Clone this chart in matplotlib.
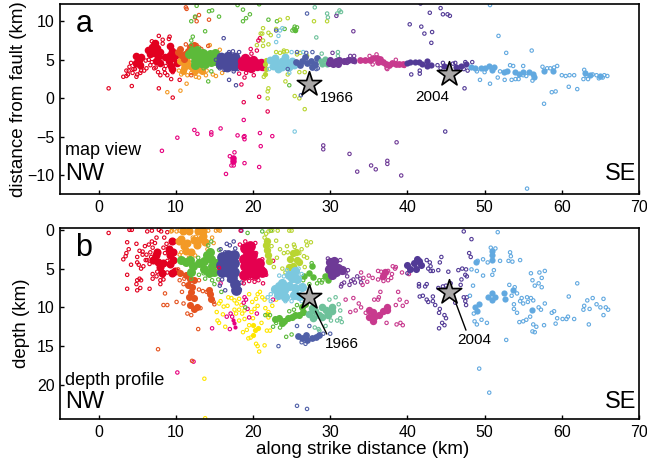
import matplotlib
matplotlib.use('Agg')
import numpy as np
import matplotlib.pyplot as plt

plt.rcParams['font.family'] = ['Liberation Sans', 'DejaVu Sans']

# colours of the clusters
cRed = '#e2001f'; cOrange = '#f39a26'; cVerm = '#e5531f'; cGreen = '#5cba3a'
cIndigo = '#4a4a9a'; cRose = '#e4004f'; cPink = '#e6007e'; cLime = '#b9d531'
cSky = '#7cc8df'; cBlue = '#5060a8'; cTeal = '#6dc19a'; cPurple = '#6e3a96'
cMag = '#c83a8e'; cViolet = '#523a96'; cAzure = '#62a9e0'; cYellow = '#ffe600'

# map view: (colour, dense core points, scattered points)
mapRed = (cRed,
    [(4.9,5.5),(5.2,5),(4.8,4.6),(5.3,4.3),(5.5,5.4),(6.4,6.3),(6.9,6.7),(7.3,7.2),(7.5,6.5),(7.9,6.0),(7.2,5.9),(7.7,5.4),(7.4,4.9),(8,4.6),(6.7,5.7),(9.2,6.8),(9.5,6.2),(9.2,5.6),(9.7,5.2),(9.1,4.8),(9.4,4.2),(8.6,5.4),(10,5.6),(10.1,4.6),(9.5,3.8)],
    [(1.3,1.3),(3.2,2.8),(3.6,2.9),(3.6,3.6),(3.9,3.6),(4,4.1),(4.2,4.6),(4.3,1.6),(4.5,3.8),(4.7,3.8),(4.9,2.8),(5.0,3.1),(5.4,3.3),(5.9,3.6),(5.5,3.6),(6.1,4.9),(6.7,4.3),(7.2,3.9),(7.4,4),(7.8,1.3),(7.8,8.1),(9.2,8),(9.4,2.5),(9.6,3.4),(8.6,3.3),(10.5,2.4),(9.6,0.1),(8.3,7.6),(6.9,7.4),(7.1,7.1),(4.8,4.3),(5.6,4.1),(6.5,5),(8.5,3.8),(9.1,7.7),(7.7,3.4),(8,3),(8.9,3),(3.8,3.1),(4.4,3.3),(6.2,3.9),(6.9,4.7),(8.3,7.1),(8.7,4.2)])
mapOrange = (cOrange,
    [(10.5,4.8),(11,4.5),(11.4,4.8),(11.8,4.2),(12.2,3.8),(11,3.9),(10.9,3.5),(12.7,4.4),(13,3.9),(13.4,3.6),(12.5,3.5)],
    [(10.4,3.6),(11.5,3),(12.5,3.2),(13.2,3.5),(14,3.6),(13,2.7),(13.9,3),(10.6,1),(8.9,0.8),(12.6,2.8),(15.2,2.9),(14.8,3.1),(16,3.3),(11.4,1.9),(14.4,6.9),(15.7,6.3),(12,3.3),(10.7,3.1)])
mapVerm = (cVerm,
    [(10.3,6),(10.7,5.6),(11.2,5.7),(11.6,6.1),(12.2,6.4),(11.9,6.7),(11,5.1),(12.4,6.9),(10.5,6.4)],
    [(11.3,11.8),(12.5,10.5),(13,10.8),(12.7,10),(14.3,10.2),(14.2,6.8),(12,3),(12.3,5.2),(13,6.6),(13.3,6.4),(11.4,11.6),(12.7,6.9),(11.3,7)])
mapGreen = (cGreen,
    [(11.7,5.7),(12.3,5.6),(12.1,6.2),(12.8,6.3),(13,5.2),(13.5,5.9),(13.8,5.3),(14.4,5.8),(14.8,5.3),(15.1,5.9),(13.2,4.6),(12.5,4.9),(13.8,4.4),(14.5,4.7),(15,4.8),(12.5,4.3)],
    [(12.7,12),(12,10),(12.5,10.6),(14.3,11.3),(14.7,11.4),(15.6,10.6),(13.8,8.7),(12.2,8),(12,7.5),(14.2,2.2),(12,6.9),(14.6,3.5),(18.7,11.5),(18,12.1),(18.7,10),(19.1,10.4),(19.6,10.9),(20.8,12.2),(22,10.2),(23.1,10),(24.1,9),(24.7,1.7),(13.6,3.9),(15.5,4.1)])
mapIndigo = (cIndigo,
    [(15.8,5),(16.5,5.2),(17.3,5),(17.6,4.7),(16.2,4.6),(17,4.4),(15.9,5.4),(16.8,5.5),(17.7,5.4),(15.7,4.5),(16.6,4.1),(17.5,4.2)],
    [(16.2,7.8),(16.9,2.4),(18,3.8),(17.8,1.7),(16.3,3.7),(18.2,6),(15.7,3.9),(17.5,3.5),(15.2,5),(16.9,6),(17.4,6.1)])
mapRose = (cRose,
    [(18.6,4.9),(19.2,4.7),(19.8,4.6),(20.4,4.6),(21,4.6),(19.2,4.1),(18.6,4.2),(19,5.2),(20,5),(20.5,4.2),(19.8,3.9),(21.2,4.2)],
    [(18.5,1.8),(18.8,-0.5),(20.8,0.2),(21.9,-1.7),(18.9,2.7),(20.1,3),(20.7,7.5),(19.7,6.4),(20.5,6.2),(18.2,3.2),(19.8,5.8),(20.9,7.8),(19.1,3.3),(21.5,3.8)])
mapPink = (cPink,
    [(17.4,-7.7),(17.4,-8.1)],
    [(8.2,-6.8),(10.2,-5.1),(12.4,-4.1),(12.8,-4.6),(14.6,-4.4),(14.6,-4.7),(15.8,-3.9),(18.0,-4.8),(18.9,-4.9),(18.9,-5.3),(18.8,-5),(20.9,-4.5),(22.5,-4.9),(21,-6.2),(17,-7.5),(17.6,-7),(17.5,-8.7),(17.2,-8.7),(18.9,-8.4),(16.5,-9.8),(20.8,-8.9),(18.8,-2.8)])
mapLime = (cLime,
    [(21.6,4.5),(21.7,3.8),(21.7,5),(21.6,3.2)],
    [(22,1.3),(21.9,0.9),(21.9,0),(20.5,6.9),(21,8.4),(21.2,8.4),(21.3,9.1),(22.3,8.2),(22,8.5),(23,9),(24.5,10.4),(23.5,10.2),(24,6.2),(24.5,3.1),(24.2,2.2),(24,6),(25.7,5.7),(26,3.4),(26.7,3.4),(26.7,-1.4),(24.4,6.1),(25.4,0.3),(26,0),(27,5.5),(26.1,5.9),(21.3,7.5),(22,7),(23,6),(23.5,5.9),(29.6,10),(27.9,10),(21.4,2.8),(21.3,6.8)])
mapTop = (cGreen,
    [(25.4,8.9)],
    [(25.5,8.8),(25.3,9),(25.7,9.2),(25.4,9.3),(25.1,8.8)])
mapSky = (cSky,
    [(22.2,5),(22.8,5.2),(23,4.6),(23.7,4.9),(24.3,4.7),(22.6,4.2),(23.7,4.1),(24.7,4.1),(25,4.9),(24.2,5.4),(23.2,3.8),(25.3,4.3)],
    [(23,7.3),(23.3,8.1),(23.8,9.1),(23.5,8.8),(25.4,-4.3),(26.5,6),(25,6),(22.1,3.8),(24.7,3.3)])
mapBlue = (cBlue,
    [(25.6,4.7),(26.1,4.3),(26.3,4.9),(27,4.6),(27.5,4.9),(26.7,5.3),(28,4.5),(27.6,4.1),(28.3,5.2)],
    [(26.2,0.4),(27,11),(24.5,3.8),(28.2,3.8),(27.7,6),(25.7,6),(23,8.8),(26.9,5.9),(28.4,3.9)])
mapTeal = (cTeal,
    [(28.8,4.8),(29,4.4),(29.3,5.1),(29.6,4.5)],
    [(28.2,7.9),(29.6,11),(28,11.8),(30.9,11),(31.2,11.4),(31.4,11.2),(31,6),(31,5.5),(29.7,10.5),(28.9,5.8)])
mapPurple = (cPurple,
    [(30,5),(30.3,4.5),(30.7,4.9),(31.2,5),(31,4.5),(29.8,4.6),(31.8,4.9),(32.3,5),(32.9,5)],
    [(30.8,10.7),(33,8.7),(29.1,-6.1),(29.1,-6.6),(32.5,-7.2),(33.5,-9.5),(35.3,-8.7),(35.9,-9.2),(37.4,-8.1),(37.4,-8.5),(39.2,-10),(38.6,-5.7),(32.6,5.5),(32.2,4.6),(30.3,5.9),(33.2,4.7),(33.1,5.5)])
mapMag = (cMag,
    [(33.9,5),(34.5,5),(35.1,5),(35.6,5.2),(36,5.2),(36.4,5.1),(36.8,4.7),(37.2,4.4),(37.6,4.3),(38,4.6),(38.5,4.5),(38.9,4.5),(39.4,4.4),(36.2,4.7)],
    [(35.5,4.4),(37.3,3.9),(39.6,4.2),(38.5,5.0),(36,5.7),(37.4,3.8),(35.1,5.5)])
mapViolet = (cViolet,
    [(39.9,4.6),(40.4,4.7),(41,4.7),(41.5,4.7),(41.9,4.4),(42.5,4.2),(43,4.3),(42.5,4.8),(45.2,4.1),(47,4.2),(47.6,4.5),(44.8,4.2),(46.3,4.1)],
    [(41.7,12.3),(44.3,11.7),(42.9,11.1),(44.6,10.9),(45.2,10.9),(45.5,10.7),(40.3,9.6),(41.8,9.3),(42.2,8.4),(43.2,8.6),(43.1,7.2),(47.4,1.3),(44.9,-4.3),(40.5,3.1),(44.6,4.6),(41.6,3.6),(41.6,3.2),(43.9,4.3),(46.2,4.6),(47.3,3.8),(46.6,3.9),(47.8,3.6),(47.5,4.7),(48.4,4.7),(44.3,3.9),(45.9,4.5)])
mapAzure = (cAzure,
    [(48.2,4.1),(48.8,3.9),(49.5,3.9),(50,4),(50.6,4.2),(51.2,4.1),(51,3.7),(52.5,3.4),(52.9,3.5),(53.9,3.4),(54.4,3.1),(55,3.4),(55.7,3.4),(56.3,3.2),(56.4,2.8),(57.7,3.5),(58.9,3.5),(63,3.3),(63.7,3),(65,2.9)],
    [(50.7,12.1),(51.8,8.1),(52.8,5.9),(56.1,6.2),(49.4,2.4),(50.7,1.9),(51.7,2.7),(52.6,2.4),(53.5,2.4),(54,2.5),(54.4,2.5),(55,3),(58.7,0.8),(59.2,0.9),(60.9,1.5),(62,1.2),(57.7,-0.7),(55.5,-11.7),(61,3),(60.5,2.9),(60,3),(61.6,3),(62.8,2.5),(63.4,2.5),(53.3,4.3),(53.7,4.2),(55,4.2),(57.5,4.1),(58.5,3.9),(59.4,4.2),(59,4),(62.9,3.7),(64,3.1),(65.9,2.9),(65.3,2.7),(64.8,2.6),(56.2,2.3),(55.4,2.9),(64.5,3),(65.5,3),(63.2,2.9),(52,3.5),(49,3.5),(50,3.4),(58.1,3.9)])

# depth profile, same layout
depRed = (cRed,
    [(7,3.9),(7.4,3.3),(7.7,4.1),(7.6,2.9),(8,4.8),(8.2,5.6),(9.1,2.5),(9.2,3.3),(9.6,3.9),(9.2,4.4),(9.9,5.3),(9.5,1.5),(9.7,2.8),(9.5,5.6),(8.4,4.3)],
    [(1.3,0.4),(4,0),(4.3,0),(3.7,1.6),(3.9,2.5),(3.6,3),(3.2,3.8),(3.5,3.4),(4.2,4.5),(3.7,5.8),(3.7,7.6),(4.9,1.8),(5.3,2.7),(5.7,2.8),(5.7,3.2),(5,3.5),(5,4.2),(5.2,4.5),(5.8,4.7),(5.5,5),(5,6.5),(5.3,6.3),(5.5,6.5),(4.9,7),(5,7.8),(5.4,7.5),(6.6,7.6),(6,2.1),(6.5,1.9),(6.3,0.2),(6.9,0.1),(6.9,1.5),(7,2.3),(6.6,4.4),(6.3,3.9),(7,6.3),(7,5.7),(7.6,5.4),(8,6.5),(8.4,6.4),(8.1,0.2),(8.9,0.3),(8,7),(8.3,5.9),(8.8,1.8),(7.5,1),(7.8,0),(6.8,3.5),(8.6,3),(8.4,2.3),(8.5,1),(6.1,3.9),(6.7,2.9),(7.3,1.7),(6.2,3.2),(7.5,6),(8.9,5.5),(8.9,4)])
depOrange = (cOrange,
    [(10.4,1.5),(11,2.1),(11.5,1.7),(11.3,2.7),(12,2.8),(12.8,2),(13.2,1.2),(13.5,0.8),(13.8,1.6),(10.9,0.2),(11.7,0.2),(12.9,0.2),(13.5,0.2),(10.7,1.2),(12.3,1.3)],
    [(9.4,0.2),(9.5,0.1),(10.1,0.2),(10.5,0.1),(14.2,0.1),(15.2,0.1),(15.5,0),(15.7,0.1),(14.7,1),(14.9,1.7),(14.1,2.5),(10.5,3.2),(10.7,2.9),(11.7,3.6),(12.5,3.3),(12.2,1),(12.6,0.9)])
depVerm = (cVerm,
    [(10.6,5.6),(11.3,5.8),(11.8,6.3),(12.4,6.5),(11.6,7.1),(12.1,7.4),(12,8),(11.7,8.6),(12.3,8.8),(11.8,9.7),(12.3,10.2),(14.3,7.8),(14.4,8.3),(14.5,8.9),(12.7,9.9)],
    [(10.3,5.1),(13,6.5),(13,7.7),(13.5,7.9),(14,8),(13.2,10.1),(10.1,9.3),(8.6,8.2),(8.4,9.7),(8.9,9.7),(12.9,12.8),(7.7,15.4),(12.1,16.9),(11.5,10.8),(12,11),(11,9.5),(10.8,8),(15,9.6),(14.9,9.3),(11,7),(10.5,6.5),(11.1,6.3)])
depGreen = (cGreen,
    [(11.3,4.2),(11.9,3.9),(12.2,4.6),(12,5.4),(13,4.3),(13.6,4),(14,3.3),(14.4,2.8),(14.6,3.8),(14.7,4.6),(14.9,5.4),(13.7,5),(14.3,5.6),(10.7,3.9),(15.2,4.3)],
    [(14.6,1.5),(14.2,2),(13,5.8),(13.8,6.3),(14.7,6.5),(15,7),(15.5,6.4),(13.6,5.6),(15.6,2.6),(19.3,0.4),(15.9,8),(19,10),(21.2,0.2),(22.3,0.1),(12,6.3),(12.9,3.6)])
depIndigo = (cIndigo,
    [(16,3.5),(16.8,3.2),(17.5,3.2),(15.9,4.5),(16.7,4.3),(17.6,4.3),(16,5.4),(16.8,5.4),(17.6,5.4),(17.3,6.2),(17.7,7),(17.8,7.8)],
    [(17,2),(17.5,1.5),(16.6,1.8),(15.6,5.5),(16.9,6.5),(15.7,7.2),(16.4,7.8),(18.5,6.8),(18.3,7.7),(15.8,2.5),(18.5,0.1),(16.4,2.9),(17.7,2.4),(16,6.4)])
depRose = (cRose,
    [(18.9,2.4),(19.6,2.1),(19.3,3),(19.9,3.2),(18.8,3.7),(19.8,4),(18.9,4.7),(20,4.8),(20.8,4.3),(20.9,5.2),(19.4,5.6),(20.2,5.7),(21.2,5.5),(18.8,5.8)],
    [(18.3,1.9),(19.5,6.6),(20.2,6.7),(20.7,6.5),(18.8,6.9),(21.3,6.9),(20.3,1.7),(18.4,0.1),(15.6,4.9),(22.6,4),(20.4,3),(21.2,3.8),(21.7,5.8),(19.9,6.2),(19,1.5)])
depLime = (cLime,
    [(21.8,1.4),(21.7,2),(21.8,2.6),(22,3.2),(22.1,4),(24.8,3.8),(25.2,3),(25.6,2.9),(25.7,3.9),(26,4.2),(24.6,4.8),(25.2,4.6)],
    [(22.5,0.1),(23.2,0.1),(24.7,0.1),(25,0.1),(25.3,1.9),(24.4,2.1),(23.5,2.5),(24,3),(23.1,3.6),(23.8,5),(24.2,5.5),(26.3,2.5),(26.6,3.4),(27,3.6),(27,2),(26.9,1.5),(27.5,1.6),(23,1.4),(22.7,4.8),(26.7,4.8),(21.7,0.5),(22,0.2),(21.5,1),(22.4,2.1),(24.5,2.9),(25.4,2.2),(26,3)])
depGreenMid = (cGreen,
    [(26.6,5.9),(27.3,5.6),(27.8,6.1),(27.7,4.7),(29.3,5.9),(29.7,6.5),(30,4.9),(29.8,5.5)],
    [(27.6,4.3),(28.6,6.5),(28.9,6.8),(29,6.5),(28.3,6.9),(27.3,7),(26.5,6.5)])
depSky = (cSky,
    [(22.8,7.6),(23.3,8.4),(23.8,6.8),(24,7.7),(24.7,7.2),(25.1,6.2),(25.7,6.3),(25.5,7.5),(25.3,8.4),(26,8.5),(24.6,5.8),(25.5,5.3),(24.2,8.6),(26.4,7.4),(23.4,7.2)],
    [(22.3,8.3),(21.9,8.7),(22.3,9.2),(24.2,9.2),(25,9.2),(26.3,9.2),(23.4,5.9),(24,6),(26.3,5.7),(24.4,5.2),(25.9,5)])
depGreenLow = (cGreen,
    [(22.8,11.5),(23.4,11.4),(24,11.7),(24.5,11.4),(25,11.3),(25.5,11),(26,11),(26.5,10.6),(26.3,9.9),(26.8,9.6),(23.8,12)],
    [(23,12),(24.3,13.8),(25,13.5),(25.7,9.7),(21.6,11),(22.6,12.5),(23.5,12.6),(24.7,10.5),(25.3,10.3),(22.2,11)])
depTeal = (cTeal,
    [(27.2,10.9),(28,10.5),(28.5,11),(29,10),(29.4,10.3),(27.8,11.4),(30.2,9.9),(29,11.2),(27.6,10.1),(30.2,10.5),(29.7,11)],
    [(31.3,10.4),(31.1,9.6),(30.7,8.7),(29.9,9),(28.5,12.8),(28.6,13),(31.3,11.4),(31.5,11.9),(30.9,11.7),(30.1,11.7),(29.4,12.4),(28,12.6)])
depBlue = (cBlue,
    [(25.8,13.7),(26.4,13.9),(27,14.2),(27.6,13.9),(28.1,13.8),(28.5,13.5),(26.9,13.5)],
    [(23.3,15),(25.7,22.7),(27,23.1),(25.7,12.4),(27.3,12.4),(29.1,13.4),(30,13.4),(26.8,14.7),(26.3,14.5)])
depPink = (cPink,
    [(17.4,11.6),(17.5,12),(17.7,12.5)],
    [(14.7,12.7),(16.6,11.2),(17,12.8),(17.3,11.2),(15.8,6.9),(18.9,8.7),(18.8,9.4),(19.1,9),(17.1,10.8),(19.5,11.3),(20.5,10.8),(10.2,18.4),(12.3,17),(8,4.9),(22.6,9),(19.3,10.2)])
depYellow = (cYellow,
    [(20,12.3),(20.2,12.9),(20,13.5),(20.7,12.7),(21.8,10.8)],
    [(13.7,19.2),(13.8,24.3),(15.3,10.6),(15.6,9.5),(15.8,9.2),(15.4,11.7),(15.6,12),(16.1,10.9),(16.7,9.8),(16.4,12.5),(16.8,8.7),(17.2,8.8),(17.6,9.1),(17.9,9.5),(18.2,8.9),(18.5,9.7),(18.2,10.3),(18.6,10.8),(18.2,11.7),(18.9,11.5),(19.5,12.3),(19.8,10.6),(20,11.4),(20.6,9.8),(20.6,8.3),(20.9,8),(21.2,8.7),(21.5,9),(20.4,8.9),(21.6,10.1),(22,10.6),(22,11.3),(21.8,13),(22.2,13),(21.5,14.9),(20.6,15),(20.8,15.7),(19.7,13.9),(19.2,12.9),(19.4,14),(18.7,13.2),(23,9),(22.5,9.8),(19.5,8.3),(17.8,10.8),(20.2,10.2),(21.1,12),(16.2,9.9),(17.6,10.3),(19.9,9.3),(18.9,10.4),(20.4,14.7)])
depPurple = (cPurple,
    [(29.9,5),(30.4,4.8),(31,4.9),(30,4.2),(30.5,4),(30.8,5.5),(30.2,5.8),(31.5,5.2)],
    [(32,5.5),(32.2,6),(31.8,6.8),(31.4,7.3),(32.7,6.6),(33,6.4),(33.5,6),(34,6.8),(32.3,5.2),(31.5,7),(32.5,7.1),(33.2,6.8),(33.9,6.3),(29.7,3.7),(31.3,3.9)])
depMag = (cMag,
    [(35,10.4),(35.5,10.6),(35,11.2),(35.7,11.3),(36.3,11),(36.8,10.5),(37.4,9.9),(37.3,10.4),(35.5,11.8),(37.1,5.4),(36.9,5.9)],
    [(34,5.5),(34.3,6.2),(34.8,6.7),(35.5,6.2),(36.2,5.3),(37,5.7),(37.5,6.5),(38,5.7),(38.4,5),(36.2,6.4),(37.5,5.3),(38.1,4.7),(38.5,4.8),(36.6,5.4),(36.7,6.2),(36.5,8),(36.3,8.7),(36.2,9),(33,8.8),(32,9),(33.7,9.5),(34,10),(34.6,10.7),(35.7,9),(38.8,8),(39,9),(39.4,9.8),(39.9,9.3),(38.5,9.7),(37.3,12),(38.6,12.2),(39.1,12),(39.4,12.3),(33.3,10.4),(32.6,10.6),(40.2,5.7),(39.3,5.5),(37.9,6.2),(36.9,6.6),(35,5.9),(34.2,7.1)])
depViolet = (cViolet,
    [(39.9,4.5),(40.4,5),(40.8,4.3),(41.1,5),(41.5,4),(41.8,4.5),(41.2,3.8)],
    [(42.9,4.2),(43,5.3),(41.5,7),(42.3,7.3),(41.5,7.3),(42.7,5),(43.3,5.3),(44.2,4.2),(44.4,3.5),(44,5.2),(45.3,5.4),(46.6,5.2),(47.1,5),(47.6,5.1),(47.5,5.8),(47.7,6),(47,6.4),(48.2,3.5),(48,3),(48.3,1.2),(47.7,8.7),(46.9,7.1),(45,7.2),(45.6,6.9),(44.6,7.3),(44,7.5),(42.5,7),(43.3,8.6),(42,8.5),(41.6,8.6),(42.5,9),(43.3,9.2),(43.6,9.7),(44.2,10.2),(44.1,10.7),(44.8,11),(45,11.4),(44.8,12.3),(44.1,12.7),(44.5,12),(42.7,9.3),(47.3,8.7),(47.5,9.2),(47.6,9.7),(46.2,9.4),(47.3,0.2),(43,4.7),(42.5,3.9),(40,5.6)])
depAzure = (cAzure,
    [(50.5,8.7),(50.9,8.2),(51.4,8.7),(51,9),(48.7,9.9),(49,10.5),(49.3,9.6),(52.5,8.2),(52.6,8.9),(51,2.7),(51,3.3),(51,3.9),(48.9,4.2),(53.7,7.8),(56.2,10.3)],
    [(51.7,0.3),(50.8,2.3),(51.4,2.4),(53.3,2.9),(53.4,3.4),(53.1,4),(53.6,4.1),(54.6,3.9),(49.1,4),(49.8,3.8),(48.3,5.1),(49,5.3),(49.8,5.9),(50.4,4.2),(51.2,5.2),(51,5.8),(52,4),(56,5.6),(56.2,6.5),(56.5,7.2),(57.1,5.5),(57.4,6.2),(57.8,5.3),(57.4,7.4),(57,6.9),(53.2,7.1),(53.9,7.4),(54.2,8.2),(54.8,8.8),(55.5,8.7),(56,8.8),(56.3,9.1),(55,9.5),(53.8,9.6),(53.8,10.2),(54.2,10.7),(55.9,11.2),(55.4,11.6),(55,11.8),(54.5,11.9),(56.3,12.2),(56.7,12.5),(56.5,13.2),(56.2,13.1),(57.7,12.3),(59.2,12.1),(59.4,11.4),(60.1,11.5),(60.6,11.5),(61.6,11.5),(60.8,11.2),(62,6.9),(60.9,8.6),(57,10),(57.8,9.5),(57.3,10.3),(58.7,10.7),(59,10.5),(63.5,12.2),(62.9,9.8),(63.3,9.1),(64,8.8),(63.6,10.2),(64.5,9.6),(65,10),(65.4,8.9),(65.7,10),(66,10.3),(65.4,11),(62.8,10.3),(52.8,14.2),(49.3,17.9),(50.6,21),(48.1,8.5),(48.5,7.2),(48.6,10.8),(49.6,11.6),(48.7,11.8),(49,12.2),(50.3,12),(54.6,9.2),(55.6,9.3),(53.5,8.5)])

mapClusters = [mapRed, mapOrange, mapVerm, mapGreen, mapIndigo, mapRose, mapPink, mapLime, mapTop,
               mapSky, mapBlue, mapTeal, mapPurple, mapMag, mapViolet, mapAzure]
mapSizes = [30, 26, 26, 42, 50, 46, 22, 14, 16, 32, 24, 20, 26, 24, 20, 20]
depClusters = [depYellow, depPink, depRed, depOrange, depVerm, depGreen, depIndigo, depRose, depLime, depGreenMid,
               depSky, depGreenLow, depTeal, depBlue, depPurple, depMag, depViolet, depAzure]
depSizes = [14, 9, 34, 34, 26, 42, 60, 60, 28, 22, 44, 26, 30, 24, 44, 28, 26, 20]

# big events (km along strike, km from fault, depth)
eventYears = ['1966', '2004']
eventX = [27.2, 45.4]
eventFault = [1.9, 3.2]
eventDepth = [8.7, 8.0]

xTicks = [0, 10, 20, 30, 40, 50, 60, 70]
W, H = 647.0, 467.0


def draw(ax, clusters, sizes):
    for (col, core, pts), size in zip(clusters, sizes):
        core = np.array(core)
        pts = np.array(pts)
        ax.scatter(core[:, 0], core[:, 1], s=size, color=col, linewidths=0, zorder=2)
        ax.scatter(pts[:, 0], pts[:, 1], s=6, facecolors='none', edgecolors=col, linewidths=0.8, zorder=2)


fig = plt.figure(figsize=(6.47, 4.67), dpi=100)
axA = fig.add_axes([60/W, 1-194/H, 579/W, 190.5/H])
axB = fig.add_axes([60/W, 1-419/H, 579/W, 190.7/H])

draw(axA, mapClusters, mapSizes)
draw(axB, depClusters, depSizes)

axA.scatter(eventX, eventFault, marker='*', s=340, color='#a9a7a6', edgecolors='k', linewidths=1.2, zorder=4)
axB.scatter(eventX, eventDepth, marker='*', s=340, color='#a9a7a6', edgecolors='k', linewidths=1.2, zorder=4)

axA.set_xlim(-5, 70)
axA.set_ylim(-12.4, 12.3)
axA.set_yticks([-10, -5, 0, 5, 10])
axA.set_yticklabels(['\u221210', '\u22125', '0', '5', '10'])
axA.set_ylabel('distance from fault (km)', fontsize=13.5, labelpad=0)

axB.set_xlim(-5, 70)
axB.set_ylim(24.4, -0.2)
axB.set_yticks([0, 5, 10, 15, 20])
axB.set_ylabel('depth (km)', fontsize=13.5, labelpad=5)
axB.set_xlabel('along strike distance (km)', fontsize=13.5, labelpad=1, x=0.523)

for ax in [axA, axB]:
    ax.set_xticks(xTicks)
    ax.tick_params(direction='in', length=3, width=1, labelsize=11.5, pad=4)
    for s in ax.spines.values():
        s.set_linewidth(1.2)

# letters and labels
axA.text(-3, 9.7, 'a', fontsize=22, va='center')
axB.text(-3, 2.4, 'b', fontsize=22, va='center')
axA.text(-4.4, -6.7, 'map view', fontsize=13, va='center')
axB.text(-4.4, 19.4, 'depth profile', fontsize=13, va='center')
axA.text(-4.4, -9.8, 'NW', fontsize=17, va='center')
axB.text(-4.4, 22.2, 'NW', fontsize=17, va='center')
axA.text(69.6, -9.8, 'SE', fontsize=17, va='center', ha='right')
axB.text(69.6, 22.2, 'SE', fontsize=17, va='center', ha='right')

axA.text(28.6, 0.1, eventYears[0], fontsize=11, va='center')
axA.text(41, 0.2, eventYears[1], fontsize=11, va='center')
axB.annotate(eventYears[0], xy=(28.1, 10.5), xytext=(29.3, 14.7), fontsize=11, va='center',
             arrowprops=dict(arrowstyle='-', lw=1, shrinkA=0, shrinkB=0, relpos=(0.1, 1)))
axB.annotate(eventYears[1], xy=(46.3, 9.5), xytext=(48.6, 14.2), fontsize=11, va='center', ha='center',
             arrowprops=dict(arrowstyle='-', lw=1, shrinkA=0, shrinkB=0, relpos=(0.3, 1)))

fig.savefig('out.png', dpi=100)
